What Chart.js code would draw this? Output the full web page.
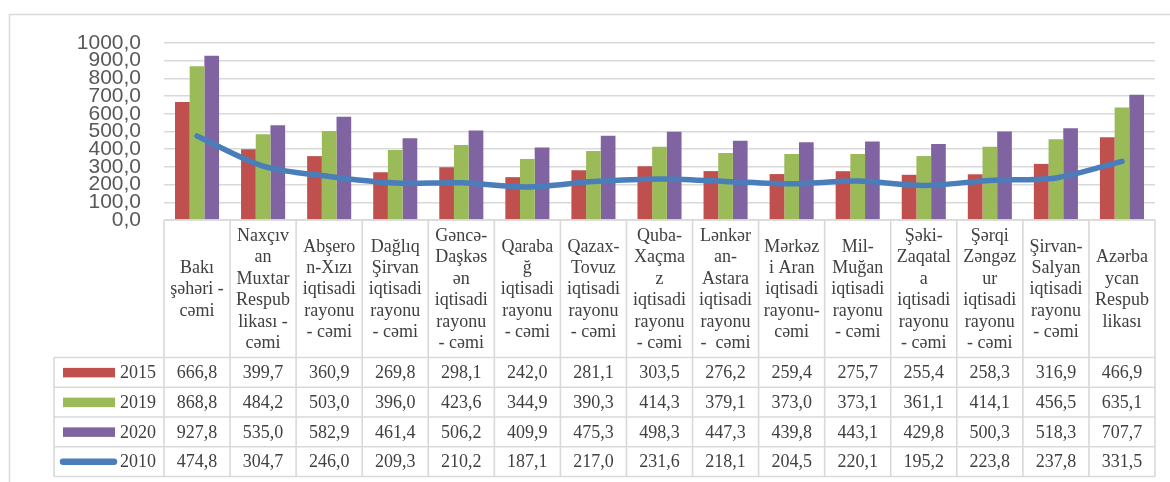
<!DOCTYPE html>
<html>
<head>
<meta charset="utf-8">
<script src="https://cdn.jsdelivr.net/npm/chart.js@4"></script>
<style>
  html, body { margin: 0; padding: 0; background: #ffffff; }
  #wrap { width: 1170px; height: 482px; position: relative; }
</style>
</head>
<body>
<div id="wrap"><canvas id="c" width="1170" height="482"></canvas></div>
<script>
const categories = [
  ["Bakı", "şəhəri -", "cəmi"],
  ["Naxçıv", "an", "Muxtar", "Respub", "likası -", "cəmi"],
  ["Abşero", "n-Xızı", "iqtisadi", "rayonu", "- cəmi"],
  ["Dağlıq", "Şirvan", "iqtisadi", "rayonu", "- cəmi"],
  ["Gəncə-", "Daşkəs", "ən", "iqtisadi", "rayonu", "- cəmi"],
  ["Qaraba", "ğ", "iqtisadi", "rayonu", "- cəmi"],
  ["Qazax-", "Tovuz", "iqtisadi", "rayonu", "- cəmi"],
  ["Quba-", "Xaçma", "z", "iqtisadi", "rayonu", "- cəmi"],
  ["Lənkər", "an-", "Astara", "iqtisadi", "rayonu", "-  cəmi"],
  ["Mərkəz", "i Aran", "iqtisadi", "rayonu-", "cəmi"],
  ["Mil-", "Muğan", "iqtisadi", "rayonu", "- cəmi"],
  ["Şəki-", "Zaqatal", "a", "iqtisadi", "rayonu", "- cəmi"],
  ["Şərqi", "Zəngəz", "ur", "iqtisadi", "rayonu", "- cəmi"],
  ["Şirvan-", "Salyan", "iqtisadi", "rayonu", "- cəmi"],
  ["Azərba", "ycan", "Respub", "likası"]
];
const values2015 = [666.8, 399.7, 360.9, 269.8, 298.1, 242.0, 281.1, 303.5, 276.2, 259.4, 275.7, 255.4, 258.3, 316.9, 466.9];
const values2019 = [868.8, 484.2, 503.0, 396.0, 423.6, 344.9, 390.3, 414.3, 379.1, 373.0, 373.1, 361.1, 414.1, 456.5, 635.1];
const values2020 = [927.8, 535.0, 582.9, 461.4, 506.2, 409.9, 475.3, 498.3, 447.3, 439.8, 443.1, 429.8, 500.3, 518.3, 707.7];
const values2010 = [474.8, 304.7, 246.0, 209.3, 210.2, 187.1, 217.0, 231.6, 218.1, 204.5, 220.1, 195.2, 223.8, 237.8, 331.5];
const seriesNames = ["2015", "2019", "2020", "2010"];
const yMin = 0, yMax = 1000, yStep = 100;

const fmt = v => v.toFixed(1).replace('.', ',');

const GRID = '#D9D9D9';
const TEXT = '#404040';

const tablePlugin = {
  id: 'dataTable',
  beforeDraw(chart) {
    const ctx = chart.ctx;
    ctx.save();
    ctx.strokeStyle = GRID;
    ctx.lineWidth = 1.5;
    ctx.strokeRect(9.5, 14.5, 1300, 700);
    ctx.restore();
  },
  afterDraw(chart) {
    const ctx = chart.ctx;
    const xs = chart.scales.x;
    const area = chart.chartArea;
    const n = chart.data.labels.length;
    const step = xs.getPixelForValue(1) - xs.getPixelForValue(0);
    const left = xs.getPixelForValue(0) - step / 2;
    const right = xs.getPixelForValue(n - 1) + step / 2;
    const top = area.bottom;
    const headerH = 137.5;
    const rowH = 29.75;
    const legendLeft = 54;
    const headerBottom = top + headerH;
    const tableBottom = headerBottom + rowH * 4;

    ctx.save();
    ctx.strokeStyle = GRID;
    ctx.lineWidth = 1.6;
    ctx.beginPath();
    ctx.moveTo(left, top); ctx.lineTo(right, top);
    for (let r = 0; r <= 4; r++) {
      const y = headerBottom + r * rowH;
      ctx.moveTo(legendLeft, y); ctx.lineTo(right, y);
    }
    for (let i = 0; i <= n; i++) {
      const x = left + i * step;
      ctx.moveTo(x, top); ctx.lineTo(x, tableBottom);
    }
    ctx.moveTo(legendLeft, headerBottom); ctx.lineTo(legendLeft, tableBottom);
    ctx.stroke();

    ctx.fillStyle = TEXT;
    ctx.font = '18px "Liberation Serif", "Times New Roman", serif';
    ctx.textAlign = 'center';
    ctx.textBaseline = 'middle';
    const lh = 21.4;
    const midY = top + headerH / 2 + 1;
    chart.data.labels.forEach((lines, i) => {
      const cx = xs.getPixelForValue(i);
      const y0 = midY - (lines.length - 1) * lh / 2;
      lines.forEach((t, k) => ctx.fillText(t, cx, y0 + k * lh));
    });

    const rows = [values2015, values2019, values2020, values2010];
    const colors = ['#C0504D', '#9BBB59', '#8064A2', '#4A7EBB'];
    rows.forEach((vals, r) => {
      const cy = headerBottom + r * rowH + rowH / 2 + 1;
      vals.forEach((v, i) => {
        ctx.fillStyle = TEXT;
        ctx.textAlign = 'center';
        ctx.fillText(fmt(v), xs.getPixelForValue(i), cy);
      });
      if (r < 3) {
        ctx.fillStyle = colors[r];
        ctx.fillRect(63, cy - 5.5, 52, 9.5);
      } else {
        ctx.strokeStyle = colors[r];
        ctx.lineWidth = 6.5;
        ctx.lineCap = 'round';
        ctx.beginPath();
        ctx.moveTo(63, cy - 1); ctx.lineTo(114, cy - 1);
        ctx.stroke();
      }
      ctx.fillStyle = TEXT;
      ctx.textAlign = 'left';
      ctx.fillText(seriesNames[r], 120, cy);
    });
    ctx.restore();
  }
};

new Chart(document.getElementById('c'), {
  type: 'bar',
  data: {
    labels: categories,
    datasets: [
      { label: seriesNames[0], data: values2015, backgroundColor: '#C0504D', order: 2,
        barPercentage: 1.0, categoryPercentage: 0.667 },
      { label: seriesNames[1], data: values2019, backgroundColor: '#9BBB59', order: 2,
        barPercentage: 1.0, categoryPercentage: 0.667 },
      { label: seriesNames[2], data: values2020, backgroundColor: '#8064A2', order: 2,
        barPercentage: 1.0, categoryPercentage: 0.667 },
      { type: 'line', label: seriesNames[3], data: values2010, borderColor: '#4A7EBB',
        backgroundColor: '#4A7EBB', borderWidth: 5.5, pointRadius: 0, tension: 0.3,
        borderCapStyle: 'round', borderJoinStyle: 'round', order: 0, fill: false }
    ]
  },
  options: {
    responsive: false,
    animation: false,
    events: [],
    layout: { padding: { left: 0, top: 43, right: 15, bottom: 262 } },
    plugins: { legend: { display: false }, tooltip: { enabled: false } },
    scales: {
      x: { display: false, offset: true },
      y: {
        min: yMin, max: yMax,
        afterFit(scale) { scale.width = 164; },
        border: { display: false },
        grid: { color: GRID, lineWidth: 1.5, drawTicks: false },
        ticks: {
          stepSize: yStep, autoSkip: false, padding: 23,
          color: '#595959',
          font: { family: '"Liberation Sans", Arial, sans-serif', size: 21 },
          callback: v => fmt(v)
        }
      }
    }
  },
  plugins: [tablePlugin]
});
</script>
</body>
</html>
